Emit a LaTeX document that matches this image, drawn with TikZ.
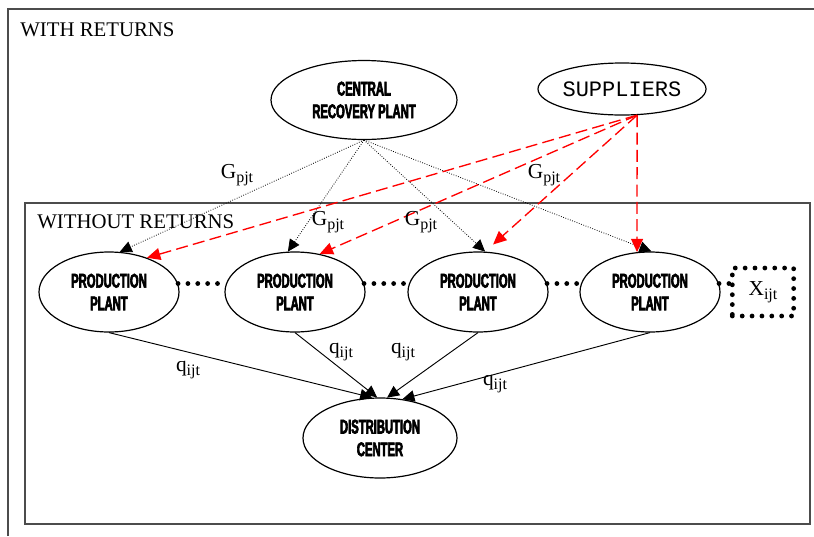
\documentclass[tikz,border=0pt]{standalone}
\usepackage{fontspec}
\setmainfont{Liberation Serif}
\setmonofont{Liberation Mono}
\newfontfamily\imp[FakeStretch=0.57,BoldFeatures={FakeBold=3}]{Liberation Sans}
\usetikzlibrary{shapes.geometric,arrows.meta,calc}
\newcommand\sbs[1]{\raisebox{-0.4ex}{\fontsize{12}{12}\selectfont #1}}
\begin{document}
\begin{tikzpicture}[x=0.75pt,y=-0.75pt,
  ell/.style={ellipse,draw,line width=0.9pt,inner sep=0pt,align=center},
  bc/.style={font=\imp\bfseries\fontsize{14.8}{17}\selectfont},
  pp/.style={minimum width=105pt,minimum height=60pt},
  frm/.style={draw=black!70,line width=1.1pt},
  rec/.style={line width=0.6pt,dash pattern=on 0.6pt off 1.2pt},
  tip/.style={-{Triangle[length=9pt,width=8.5pt]}},
  rtip/.style={-{Triangle[length=10pt,width=9pt,fill=red]}},
  reddash/.style={draw=red,line width=1pt,dash pattern=on 9pt off 4pt},
  thickdots/.style={line width=3.6pt,line cap=round,dash pattern=on 0pt off 7.4pt},
  lbl/.style={font=\fontsize{16}{16}\selectfont,inner sep=0pt},
  title/.style={font=\fontsize{15.6}{16}\selectfont,inner sep=0pt},
  qline/.style={line width=0.7pt}]
\useasboundingbox (0,0) rectangle (814,536);
\draw[frm] (8,536) -- (8,9) -- (814,9);
\node[anchor=west,title] (wr) at (20,30) {WITH RETURNS};
\draw[frm] (25,203) rectangle (810,524);
\node[anchor=west,title] (wor) at (37,222) {WITHOUT RETURNS};

\node[ell,bc,minimum width=139.5pt,minimum height=59.25pt] (crp) at (364,100) {CENTRAL\\RECOVERY PLANT};
\node[ell,minimum width=126pt,minimum height=39pt,font=\ttfamily\fontsize{16.5}{16.5}\selectfont] (sup) at (622,89) {SUPPLIERS};
\node[ell,bc,pp] (p1) at (109,292) {PRODUCTION\\PLANT};
\node[ell,bc,pp] (p2) at (295,292) {PRODUCTION\\PLANT};
\node[ell,bc,pp] (p3) at (478,292) {PRODUCTION\\PLANT};
\node[ell,bc,pp] (p4) at (650,292) {PRODUCTION\\PLANT};
\node[ell,bc,minimum width=115.5pt,minimum height=60pt] (dc) at (380,438) {DISTRIBUTION\\CENTER};
\node[draw,thickdots,minimum width=46pt,minimum height=36pt,lbl] (x) at (763,292) {X\sbs{ijt}};

% central recovery flows
\draw[rec,tip] (crp.south) -- (p1.75);
\draw[rec,tip] (crp.south) -- (p2.100);
\draw[rec,tip] (crp.south) -- (p3.80);
\draw[rec,tip] (crp.south) -- (p4.88);

% supplier flows
\draw[reddash,rtip] (sup.-60) -- (p1.42);
\draw[reddash,rtip] (sup.-60) -- (p2.57);
\draw[reddash,rtip,shorten >=8pt] (sup.-60) -- (p3.80);
\draw[reddash,rtip] (sup.-60) -- (p4.108);

% product flows
\draw[qline,tip] (p1.south) -- (dc.101);
\draw[qline,tip] (p2.south) -- (dc.94);
\draw[qline,tip] (p3.south) -- (dc.80);
\draw[qline,tip] (p4.south) -- (dc.60);

% dotted links
\draw[thickdots] (p1.7) -- (p2.173);
\draw[thickdots] (p2.7) -- (p3.173);
\draw[thickdots] (p3.7) -- (p4.173);
\draw[thickdots] (p4.7) -- (p4.7 -| x.west);

% labels
\node[lbl] (g1) at (237,175) {G\sbs{pjt}};
\node[lbl] (g2) at (328,222) {G\sbs{pjt}};
\node[lbl] (g3) at (421,222) {G\sbs{pjt}};
\node[lbl] (g4) at (544,175) {G\sbs{pjt}};
\node[lbl] (q1) at (188,370) {q\sbs{ijt}};
\node[lbl] (q2) at (341,352) {q\sbs{ijt}};
\node[lbl] (q3) at (403,352) {q\sbs{ijt}};
\node[lbl] (q4) at (495,384) {q\sbs{ijt}};
\end{tikzpicture}
\end{document}
